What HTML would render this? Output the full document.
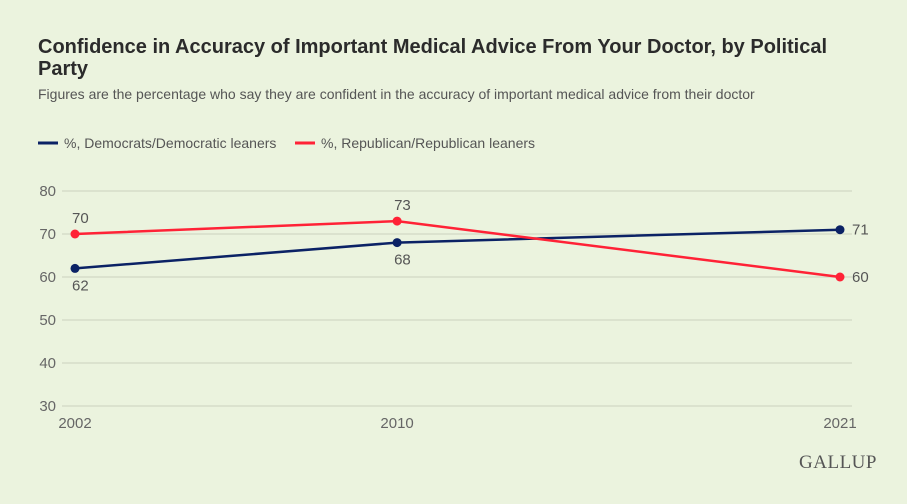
<!DOCTYPE html>
<html><head><meta charset="utf-8"><style>
body{margin:0;width:907px;height:504px;background:#ebf3de;font-family:"Liberation Sans",sans-serif;overflow:hidden;position:relative}
h1{position:absolute;left:38px;top:36px;margin:0;width:810px;font-size:20px;line-height:22px;font-weight:bold;color:#2b2b2b}
.sub{position:absolute;left:38px;top:86px;font-size:14px;color:#555}
svg{position:absolute;left:0;top:0}
</style></head><body>
<h1>Confidence in Accuracy of Important Medical Advice From Your Doctor, by Political Party</h1>
<div class="sub">Figures are the percentage who say they are confident in the accuracy of important medical advice from their doctor</div>
<svg id="c" width="907" height="504"></svg>
<script>
const years=[2002,2010,2021];
const dem=[62,68,71];
const rep=[70,73,60];
const yTicks=[30,40,50,60,70,80];
const NS='http://www.w3.org/2000/svg';
const svg=document.getElementById('c');
const x=v=>75+(v-2002)*(840-75)/19;
const y=v=>406-(v-30)*(406-191)/50;
function el(t,a,p){const e=document.createElementNS(NS,t);for(const k in a)e.setAttribute(k,a[k]);(p||svg).appendChild(e);return e;}
let lg=el('line',{x1:38,y1:143,x2:58,y2:143,stroke:'#0b2265','stroke-width':3});

let lt=el('text',{x:64,y:148,'font-size':14,fill:'#555'});lt.textContent='%, Democrats/Democratic leaners';

lg=el('line',{x1:295,y1:143,x2:315,y2:143,stroke:'#ff2236','stroke-width':3});

lt=el('text',{x:321,y:148,'font-size':14,fill:'#555'});lt.textContent='%, Republican/Republican leaners';

yTicks.forEach(t=>{
 const g=el('line',{x1:62,x2:852,y1:y(t),y2:y(t),stroke:'#d6dcc8','stroke-width':1.5});
 
 const l=el('text',{x:56,y:y(t)+5,'font-size':15,fill:'#666','text-anchor':'end'});l.textContent=t;
 
});
years.forEach(v=>{
 const l=el('text',{x:x(v),y:428,'font-size':15,fill:'#666','text-anchor':'middle'});l.textContent=v;
 
});
function series(data,color,name,labelPos){
 const p=el('polyline',{points:data.map((d,i)=>x(years[i])+','+y(d)).join(' '),fill:'none',stroke:color,'stroke-width':2.5});
 
 data.forEach((d,i)=>{
  const c=el('circle',{cx:x(years[i]),cy:y(d),r:4.5,fill:color});
  
  const pos=labelPos[i];let tx=x(years[i]),ty=y(d),anc='start';
  if(pos==='up'){ty-=11;tx-=3;}
  else if(pos==='down'){ty+=22;tx-=3;}
  else {tx+=12;ty+=5;}
  const t=el('text',{x:tx,y:ty,'font-size':15,fill:'#555','text-anchor':anc});t.textContent=d;
  
 });
}
series(dem,'#0b2265','dem',['down','down','right']);
series(rep,'#ff2236','rep',['up','up','right']);
const g=el('text',{x:838,y:468,'font-size':19,fill:'#555','text-anchor':'middle','font-family':'Liberation Serif, serif','letter-spacing':'0.5'});g.textContent='GALLUP';

</script>
</body></html>
